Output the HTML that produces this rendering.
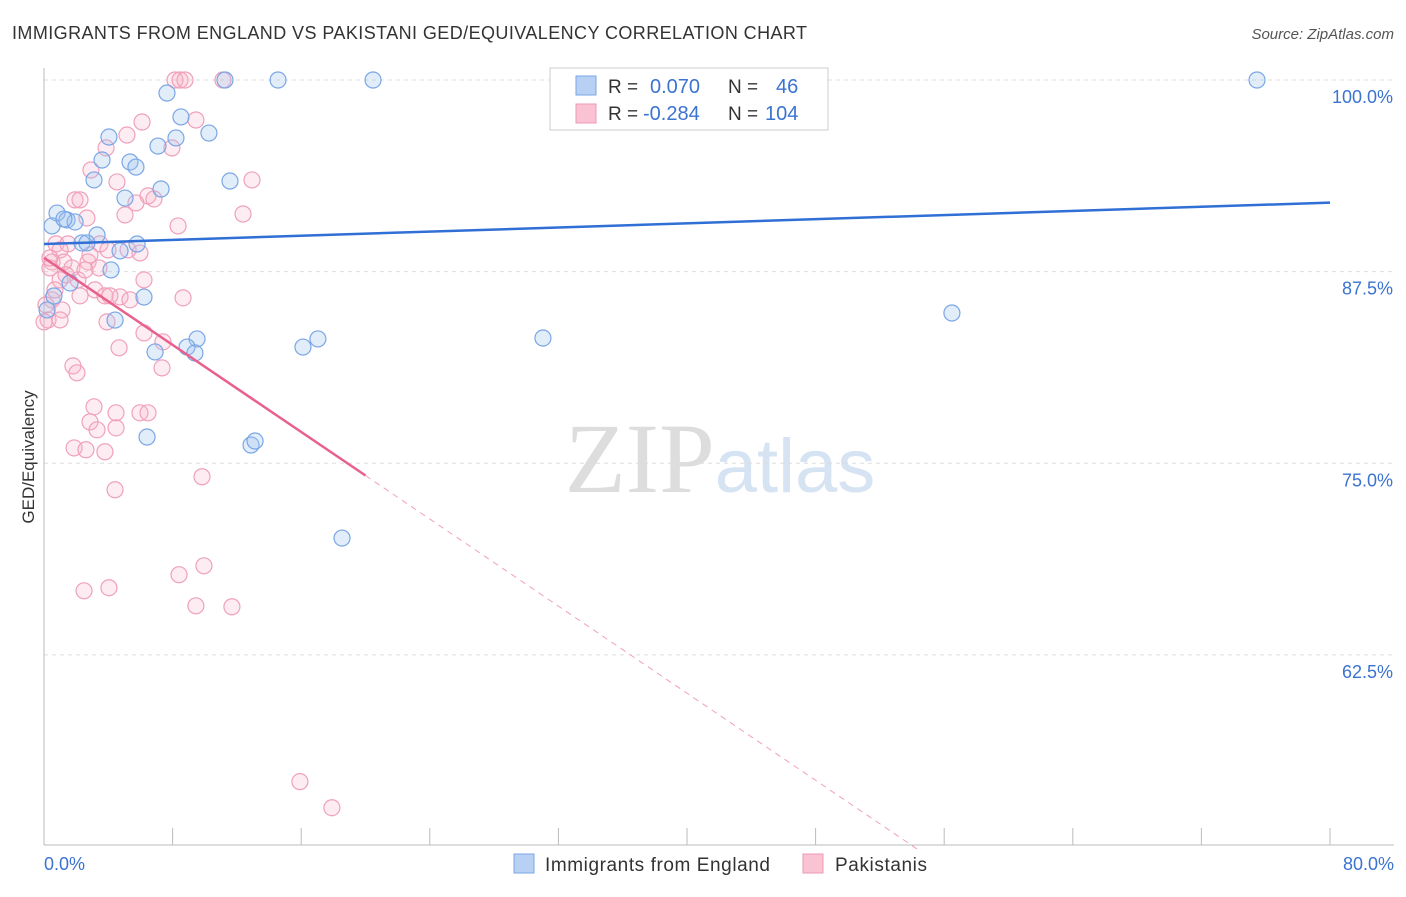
<!DOCTYPE html>
<html><head><meta charset="utf-8"><style>
body{margin:0;background:#fff;font-family:"Liberation Sans",sans-serif;}
svg text{font-family:"Liberation Sans",sans-serif;}
</style></head><body>
<svg id="chart" width="1406" height="892">
<text x="12" y="39" font-size="18" fill="#333" textLength="795">IMMIGRANTS FROM ENGLAND VS PAKISTANI GED/EQUIVALENCY CORRELATION CHART</text>
<text x="1394" y="39" font-size="15" fill="#555" font-style="italic" text-anchor="end">Source: ZipAtlas.com</text>
<text x="34" y="457" font-size="17" fill="#333" transform="rotate(-90 34 457)" text-anchor="middle">GED/Equivalency</text>
<text x="720" y="492" font-size="100" fill="#ddd" text-anchor="middle" font-family="Liberation Serif"><tspan font-family="Liberation Serif">ZIP</tspan><tspan fill="#d5e3f3" font-family="Liberation Sans" font-size="76">atlas</tspan></text>
<g id="grid"></g><g id="axes"></g><g id="pts"></g><g id="lines"></g>
<g>
<rect x="550" y="68" width="278" height="62" fill="#fff" stroke="#ccc"/>
<rect x="576" y="76" width="20" height="19" fill="#b8d0f4" stroke="#7aa6e6"/>
<rect x="576" y="104" width="20" height="19" fill="#f9c3d3" stroke="#ee9ab5"/>
<text x="608" y="93" font-size="19" fill="#333">R = </text><text x="650" y="93" font-size="20" fill="#3b73d1">0.070</text>
<text x="728" y="93" font-size="19" fill="#333">N = </text><text x="776" y="93" font-size="20" fill="#3b73d1">46</text>
<text x="608" y="120" font-size="19" fill="#333">R = </text><text x="643" y="120" font-size="20" fill="#3b73d1">-0.284</text>
<text x="728" y="120" font-size="19" fill="#333">N = </text><text x="765" y="120" font-size="20" fill="#3b73d1">104</text>
</g>
<g>
<rect x="514" y="854" width="20" height="19" fill="#b8d0f4" stroke="#7aa6e6"/>
<text x="545" y="871" font-size="19" fill="#333" textLength="225">Immigrants from England</text>
<rect x="803" y="854" width="20" height="19" fill="#f9c3d3" stroke="#ee9ab5"/>
<text x="835" y="871" font-size="19" fill="#333" textLength="92">Pakistanis</text>
</g>
</svg>
<script>
const blueX=[11.26,14.56,20.47,33.04,75.46,7.65,8.52,10.26,4.04,8.21,7.09,5.35,5.72,3.61,3.11,7.28,11.57,5.04,0.81,0.50,1.43,1.93,3.30,2.36,2.67,5.79,4.73,4.17,6.22,4.42,9.52,8.90,6.91,9.39,16.11,17.04,31.04,56.48,6.41,12.88,13.13,18.54,0.62,1.62,0.19,1.24];
const blueY=[100,100,100,100,100,99.15,97.59,96.54,96.28,96.22,95.69,94.65,94.32,94.78,93.48,92.89,93.41,92.30,91.32,90.48,90.87,90.74,89.89,89.37,89.37,89.30,88.85,87.61,85.84,84.34,83.11,82.58,82.26,82.19,82.58,83.11,83.17,84.80,76.71,76.19,76.45,70.12,85.91,86.76,85.0,90.93];
const pinkX=[8.15,8.46,8.77,11.13,9.45,6.10,5.16,3.86,7.96,2.92,4.54,12.94,6.47,6.84,5.72,1.93,2.24,5.04,12.38,2.67,8.34,0.75,1.49,3.48,1.00,3.98,5.23,5.97,0.50,1.24,2.74,0.37,1.74,3.42,6.22,2.11,1.00,3.17,4.73,8.65,0.50,2.24,3.79,1.12,0.25,1.00,3.92,6.22,7.40,4.67,1.80,2.05,7.34,3.11,4.48,5.97,6.47,2.86,3.30,4.48,1.87,2.61,3.79,9.83,4.42,9.95,8.40,4.04,2.49,9.45,11.69,15.92,17.91,0,0.12,0.68,1.37,2.55,4.10,5.35,2.86,0.37];
const pinkY=[100,100,100,100,97.39,97.26,96.41,95.57,95.57,94.13,93.35,93.48,92.44,92.24,91.98,92.18,92.18,91.20,91.26,91.0,90.48,89.31,89.31,89.31,88.92,88.92,88.92,88.72,88.13,88.13,88.13,87.74,87.74,87.74,86.96,86.96,86.96,86.31,85.85,85.79,85.66,85.92,85.92,85.0,84.35,84.35,84.22,83.50,82.92,82.53,81.35,80.90,81.22,78.68,78.29,78.29,78.29,77.70,77.18,77.31,76.0,75.88,75.75,74.12,73.27,68.31,67.73,66.88,66.68,65.70,65.64,54.23,52.53,84.22,85.33,86.31,87.29,87.61,85.92,85.66,88.59,88.39];
const yTicks=[100,87.5,75,62.5];
const blueTrend=[89.3,92.0];
const pinkTrend=[88.4,74.2,20];
const NS='http://www.w3.org/2000/svg';
const X0=44,X1=1330,Y0=80,PER=15.33;
const sx=v=>X0+(v/80)*(X1-X0);
const sy=v=>Y0+(100-v)*PER;
function mk(t,a,p){const e=document.createElementNS(NS,t);for(const k in a)e.setAttribute(k,a[k]);p.appendChild(e);return e;}
const grid=document.getElementById('grid'),axes=document.getElementById('axes');
yTicks.forEach(v=>{
 const l=mk('line',{x1:X0,x2:1394,y1:sy(v),y2:sy(v),stroke:'#ddd','stroke-dasharray':'4,4'},grid);
 
 
 const t=mk('text',{x:1393,y:sy(v)+23,'font-size':18,fill:'#3b73d1','text-anchor':'end'},axes);
 t.textContent=v.toFixed(1)+'%';
 
 
});
mk('line',{x1:X0,x2:X0,y1:68,y2:845,stroke:'#bbb'},axes);
mk('line',{x1:X0,x2:1394,y1:845,y2:845,stroke:'#bbb'},axes);
for(let i=0;i<=10;i++){const x=X0+i*(X1-X0)/10;mk('line',{x1:x,x2:x,y1:828,y2:845,stroke:'#bbb'},axes);}
let t=mk('text',{x:44,y:870,'font-size':18,fill:'#3b73d1'},axes);t.textContent='0.0%';


t=mk('text',{x:1394,y:870,'font-size':18,fill:'#3b73d1','text-anchor':'end'},axes);t.textContent='80.0%';


const pts=document.getElementById('pts');
pinkX.forEach((x,i)=>{const c=mk('circle',{cx:sx(x),cy:sy(pinkY[i]),r:8,fill:'rgba(248,180,200,0.25)',stroke:'#f0a0bb','stroke-width':1.2},pts);
 
 });
blueX.forEach((x,i)=>{const c=mk('circle',{cx:sx(x),cy:sy(blueY[i]),r:8,fill:'rgba(160,195,240,0.3)',stroke:'#7aa6e6','stroke-width':1.2},pts);
 
 });
const lines=document.getElementById('lines');
let l=mk('line',{x1:sx(0),y1:sy(blueTrend[0]),x2:sx(80),y2:sy(blueTrend[1]),stroke:'#2f6fd6','stroke-width':2.5},lines);


const slope=(pinkTrend[1]-pinkTrend[0])/pinkTrend[2];
l=mk('line',{x1:sx(0),y1:sy(pinkTrend[0]),x2:sx(pinkTrend[2]),y2:sy(pinkTrend[1]),stroke:'#e8608c','stroke-width':2.5},lines);


const xe=54.5;
l=mk('line',{x1:sx(pinkTrend[2]),y1:sy(pinkTrend[1]),x2:sx(xe),y2:sy(pinkTrend[0]+slope*xe),stroke:'#f0a0bb','stroke-width':1,'stroke-dasharray':'6,5'},lines);


</script>
</body></html>
